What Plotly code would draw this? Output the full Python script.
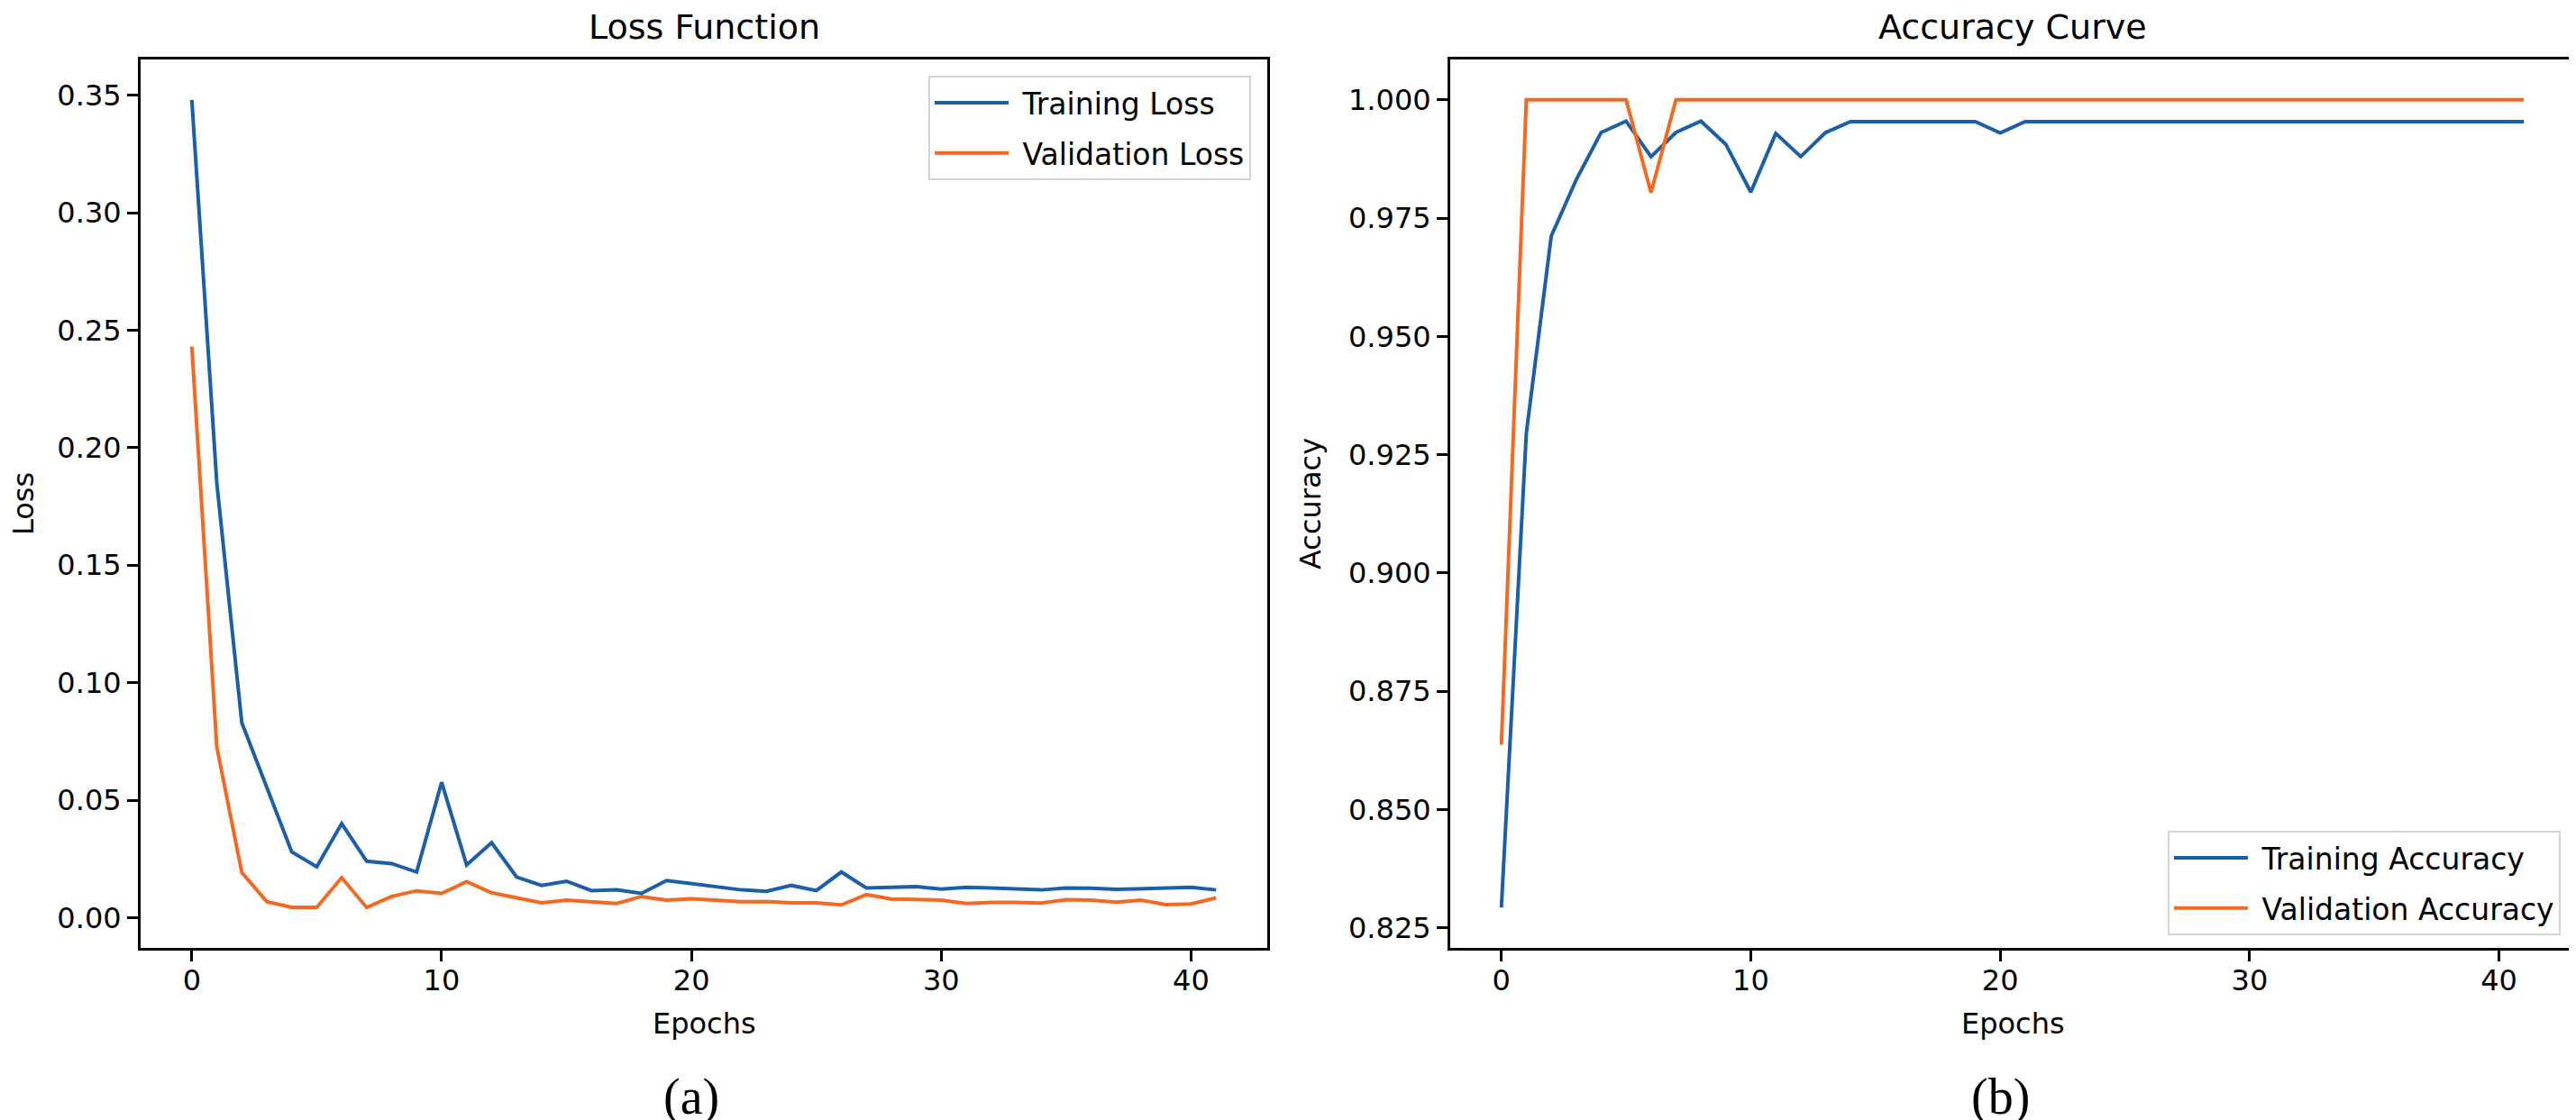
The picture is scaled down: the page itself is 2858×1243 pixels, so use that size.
import plotly.graph_objects as go

W, H = 2858, 1243

epochs = list(range(42))

train_loss = [0.348, 0.185, 0.083, 0.056, 0.028, 0.0216, 0.040, 0.024, 0.023, 0.0194,
              0.0576, 0.0224, 0.0319, 0.0173, 0.0137, 0.0155, 0.0115, 0.0118, 0.0103, 0.0158,
              0.0145, 0.0129, 0.0118, 0.0112, 0.0137, 0.0115, 0.0194, 0.0126, 0.0129, 0.0132,
              0.0121, 0.0129, 0.0126, 0.0123, 0.0118, 0.0126, 0.0125, 0.0120, 0.0123, 0.0123,
              0.0129, 0.0118]
val_loss = [0.243, 0.0726, 0.0192, 0.0068, 0.0044, 0.0044, 0.0170, 0.0043, 0.0090, 0.0114,
            0.0103, 0.0153, 0.0106, 0.0084, 0.0063, 0.0074, 0.0068, 0.0060, 0.0090, 0.0074,
            0.0080, 0.0074, 0.0068, 0.0069, 0.0063, 0.0063, 0.0054, 0.0098, 0.0079, 0.0077,
            0.0074, 0.0060, 0.0065, 0.0065, 0.0062, 0.0076, 0.0074, 0.0066, 0.0074, 0.0055,
            0.0058, 0.0084]
train_acc = [0.8293, 0.9295, 0.9712, 0.9831, 0.9931, 0.9955, 0.9880, 0.9931, 0.9955, 0.9906,
             0.9805, 0.9929, 0.9880, 0.9931, 0.9954, 0.9954, 0.9954, 0.9954, 0.9954, 0.9954,
             0.9930, 0.9954, 0.9954, 0.9954, 0.9954, 0.9954, 0.9954, 0.9954, 0.9954, 0.9954,
             0.9954, 0.9954, 0.9954, 0.9954, 0.9954, 0.9954, 0.9954, 0.9954, 0.9954, 0.9954,
             0.9954, 0.9954]
val_acc = [0.8637, 1.0, 1.0, 1.0, 1.0, 1.0, 0.9804, 1.0, 1.0, 1.0,
           1.0, 1.0, 1.0, 1.0, 1.0, 1.0, 1.0, 1.0, 1.0, 1.0,
           1.0, 1.0, 1.0, 1.0, 1.0, 1.0, 1.0, 1.0, 1.0, 1.0,
           1.0, 1.0, 1.0, 1.0, 1.0, 1.0, 1.0, 1.0, 1.0, 1.0,
           1.0, 1.0]

titles = ["Loss Function", "Accuracy Curve"]
ylabels = ["Loss", "Accuracy"]
xlabel = "Epochs"
panel_tags = ["(a)", "(b)"]
legend_names = [["Training Loss", "Validation Loss"], ["Training Accuracy", "Validation Accuracy"]]

BLUE = "#1a5fa8"
ORANGE = "#f4691f"
FONT = "DejaVu Sans"


def mpl_range(vals, m=0.05):
    lo, hi = min(vals), max(vals)
    d = (hi - lo) * m
    return [lo - d, hi + d]


def px(x):
    return x / W


def py(y):
    return 1 - y / H


ax_top, ax_bot = 58, 1044
left_dom = [px(148), px(1398)]
right_dom = [px(1601), px(2849)]
ydom = [py(ax_bot), py(ax_top)]

fig = go.Figure()

specs = [
    (train_loss, legend_names[0][0], BLUE, "x", "y", "legend", "a1"),
    (val_loss, legend_names[0][1], ORANGE, "x", "y", "legend", "a2"),
    (train_acc, legend_names[1][0], BLUE, "x2", "y2", "legend2", "b1"),
    (val_acc, legend_names[1][1], ORANGE, "x2", "y2", "legend2", "b2"),
]
for vals, name, color, xa, ya, lg, grp in specs:
    fig.add_trace(go.Scatter(x=epochs, y=vals, mode="lines", name=" " + name,
                             line=dict(color=color, width=4), xaxis=xa, yaxis=ya,
                             legend=lg, legendgroup=grp))

axis_common = dict(showline=True, linecolor="black", linewidth=3, mirror=True,
                   ticks="outside", ticklen=12, tickwidth=2.5, tickcolor="black",
                   showgrid=False, zeroline=False,
                   tickfont=dict(family=FONT, size=32, color="black"))

xr = mpl_range(epochs)
legend_common = dict(bgcolor="white", bordercolor="#d4d4d4", borderwidth=2,
                     font=dict(family=FONT, size=33, color="black"),
                     tracegroupgap=10, traceorder="grouped", itemwidth=82)
fig.update_layout(
    width=W, height=H, autosize=False,
    margin=dict(l=0, r=0, t=0, b=0),
    paper_bgcolor="white", plot_bgcolor="white",
    font=dict(family=FONT, color="black"),
    xaxis=dict(domain=left_dom, anchor="y", range=xr, tick0=0, dtick=10,
               ticklabelstandoff=-6, **axis_common),
    yaxis=dict(domain=ydom, anchor="x", range=mpl_range(train_loss + val_loss),
               tick0=0, dtick=0.05, tickformat=".2f", **axis_common),
    xaxis2=dict(domain=right_dom, anchor="y2", range=xr, tick0=0, dtick=10,
                ticklabelstandoff=-6, **axis_common),
    yaxis2=dict(domain=ydom, anchor="x2", range=mpl_range(train_acc + val_acc),
                tick0=0, dtick=0.025, tickformat=".3f", **axis_common),
    legend=dict(x=px(1380), y=py(76), xanchor="right", yanchor="top", **legend_common),
    legend2=dict(x=px(2833), y=py(1030), xanchor="right", yanchor="bottom", **legend_common),
    showlegend=True,
)

annotations = []
centers = [(left_dom[0] + left_dom[1]) / 2, (right_dom[0] + right_dom[1]) / 2]
for i in range(2):
    annotations.append(dict(text=titles[i], x=centers[i], y=py(22), xref="paper", yref="paper",
                            showarrow=False, xanchor="center", yanchor="middle",
                            font=dict(family=FONT, size=38, color="black")))
    annotations.append(dict(text=xlabel, x=centers[i], y=py(1128), xref="paper", yref="paper",
                            showarrow=False, xanchor="center", yanchor="middle",
                            font=dict(family=FONT, size=32, color="black")))
    annotations.append(dict(text=panel_tags[i], x=centers[i] - px(14), y=0, xref="paper",
                            yref="paper", showarrow=False, xanchor="center", yanchor="bottom",
                            font=dict(family="Liberation Serif", size=56, color="black")))
ylab_x = [px(18), px(1446)]
for i in range(2):
    annotations.append(dict(text=ylabels[i], x=ylab_x[i], y=py(551), xref="paper", yref="paper",
                            showarrow=False, xanchor="center", yanchor="middle", textangle=-90,
                            font=dict(family=FONT, size=32, color="black")))
fig.update_layout(annotations=annotations)

fig.write_html("out.html")
